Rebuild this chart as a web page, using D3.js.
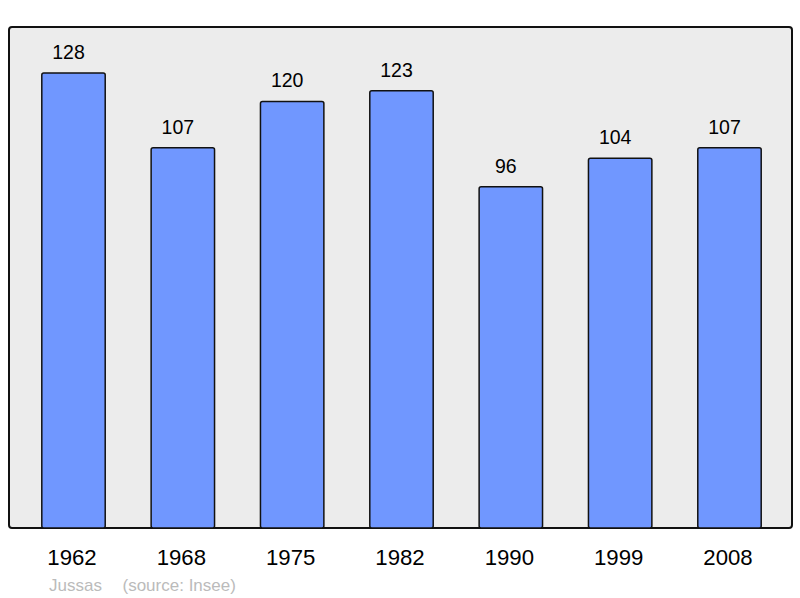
<!DOCTYPE html>
<html>
<head>
<meta charset="utf-8">
<script src="https://cdn.jsdelivr.net/npm/d3@7/dist/d3.min.js"></script>
<style>
  html, body { margin: 0; padding: 0; background: #fff; }
  svg { display: block; font-family: "Liberation Sans", Arial, sans-serif; }
</style>
</head>
<body>
<svg id="chart" width="800" height="598"></svg>
<script>
const years = ["1962", "1968", "1975", "1982", "1990", "1999", "2008"];
const population = [128, 107, 120, 123, 96, 104, 107];
const commune = "Jussas";
const sourceNote = "(source: Insee)";

const svg = d3.select("#chart");
const frame = { x0: 9, x1: 792, y0: 27, y1: 528 };

const x = d3.scaleBand()
  .domain(years)
  .range([frame.x0, frame.x1 + 2])
  .paddingInner(0.42)
  .paddingOuter(0.3);

const y = d3.scaleLinear()
  .domain([0, 128])
  .range([frame.y1, 73]);

svg.append("rect")
  .attr("x", frame.x0).attr("y", frame.y0)
  .attr("width", frame.x1 - frame.x0).attr("height", frame.y1 - frame.y0)
  .attr("rx", 3).attr("ry", 3)
  .attr("fill", "#ececec")
  .attr("stroke", "#111").attr("stroke-width", 2);

const data = years.map((yr, i) => ({ year: yr, value: population[i] }));

svg.append("g").selectAll("rect")
  .data(data).join("rect")
  .attr("x", d => x(d.year))
  .attr("y", d => y(d.value))
  .attr("width", x.bandwidth())
  .attr("height", d => y(0) - y(d.value))
  .attr("rx", 2).attr("ry", 2)
  .attr("fill", "#7097ff")
  .attr("stroke", "#111").attr("stroke-width", 1.5);

svg.append("g").selectAll("text")
  .data(data).join("text")
  .attr("x", d => x(d.year) + x.bandwidth() / 2 - 5)
  .attr("y", d => y(d.value) - 14)
  .attr("text-anchor", "middle")
  .attr("font-size", 19.5)
  .attr("fill", "#000")
  .text(d => d.value);

const xAxis = d3.axisBottom(x).tickSize(0).tickPadding(0);
const gx = svg.append("g")
  .attr("transform", `translate(0,${frame.y1})`)
  .call(xAxis);
gx.select(".domain").remove();
gx.selectAll("text")
  .attr("font-size", 22.2)
  .attr("font-family", "Liberation Sans, Arial, sans-serif")
  .attr("fill", "#000")
  .attr("dy", null)
  .attr("x", -1.5)
  .attr("y", 36.5);

svg.append("text")
  .attr("x", 49).attr("y", 590.5)
  .attr("font-size", 17).attr("fill", "#bbbbbb")
  .text(commune);
svg.append("text")
  .attr("x", 122.5).attr("y", 590.5)
  .attr("font-size", 17).attr("fill", "#bbbbbb")
  .text(sourceNote);
</script>
</body>
</html>
